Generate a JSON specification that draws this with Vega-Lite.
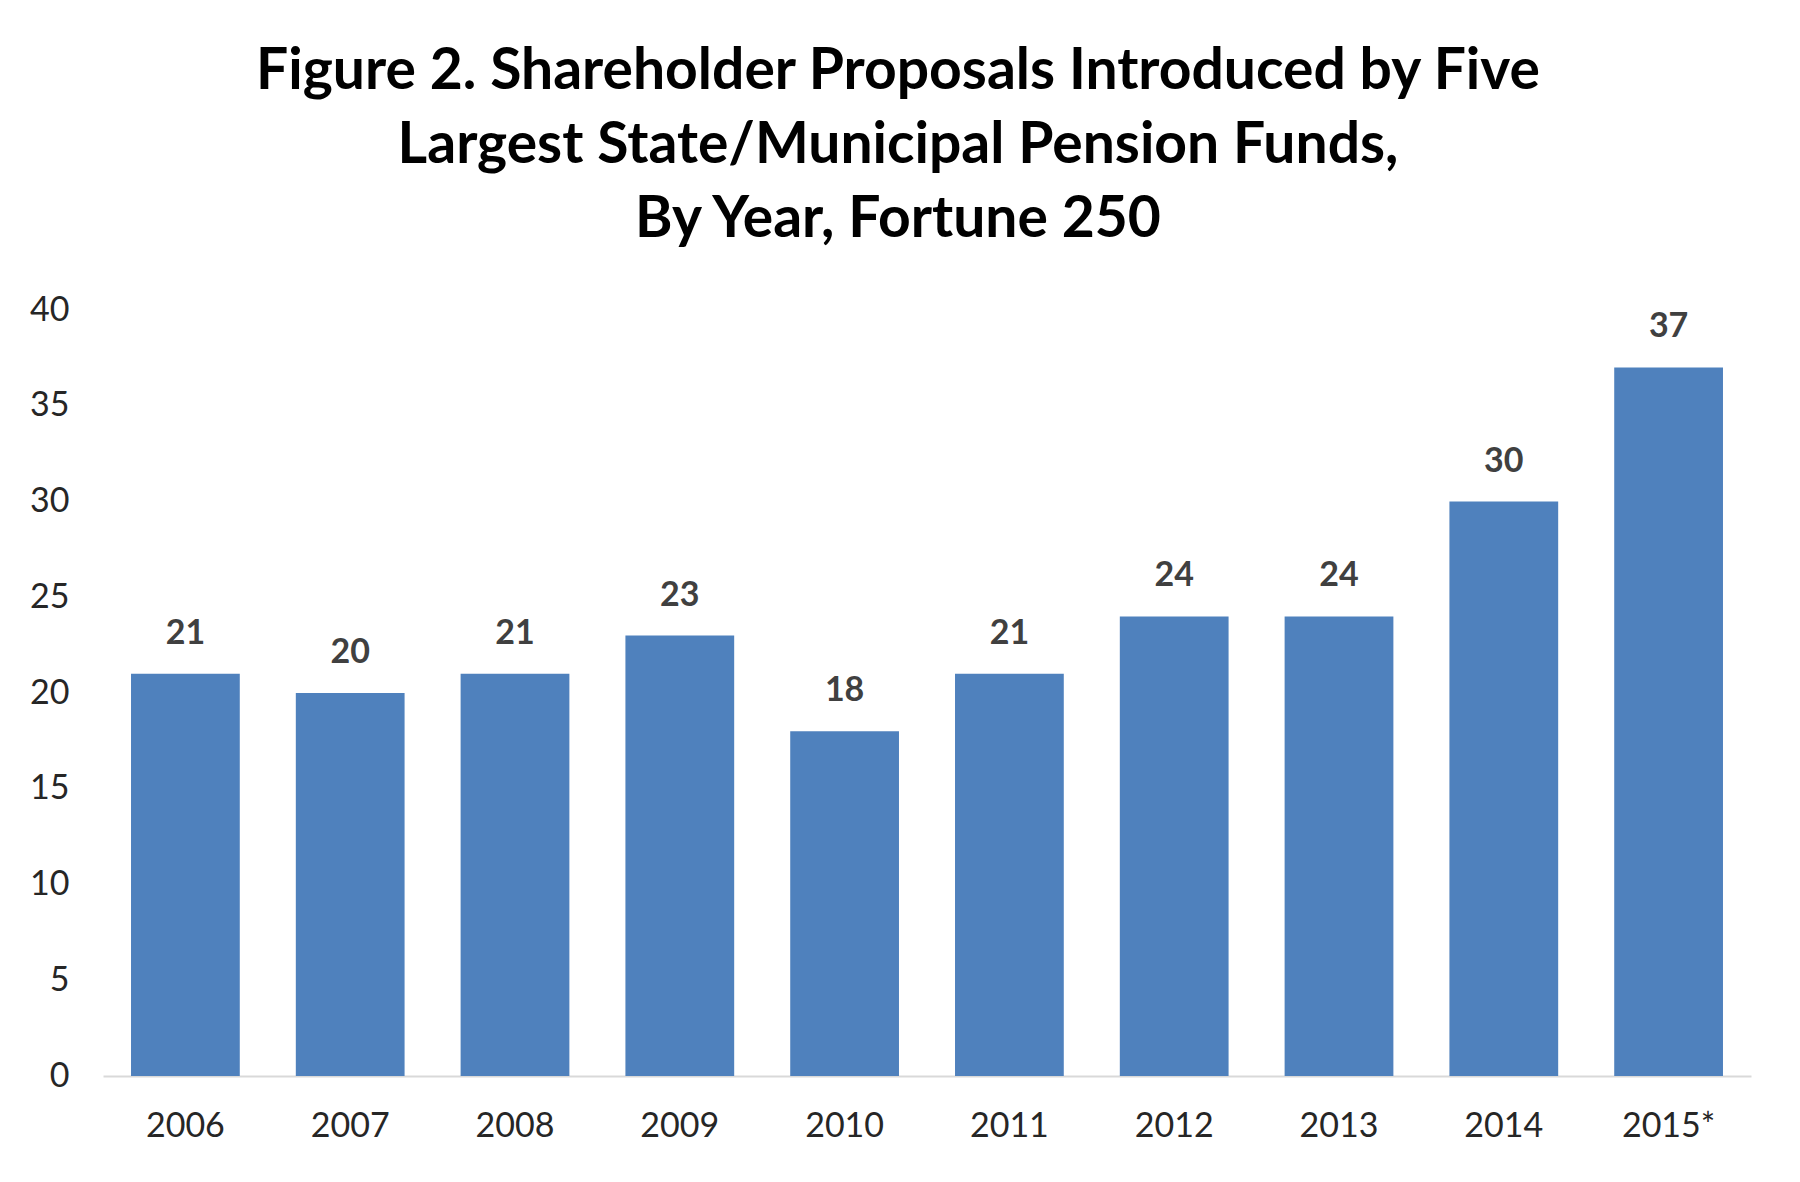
{
  "$schema": "https://vega.github.io/schema/vega-lite/v6.json",
  "autosize": {"type": "none"},
  "width": 1648,
  "height": 766,
  "padding": {"left": 103, "top": 310, "right": 49, "bottom": 106},
  "background": "white",
  "title": {
    "text": ["Figure 2. Shareholder Proposals Introduced by Five", "Largest State/Municipal Pension Funds,", "By Year, Fortune 250"],
    "font": "Lato",
    "fontSize": 57,
    "fontWeight": "bold",
    "color": "#000000",
    "lineHeight": 74,
    "anchor": "middle",
    "dx": -29,
    "offset": 44
  },
  "data": {
    "values": [
      {"year": "2006", "proposals": 21},
      {"year": "2007", "proposals": 20},
      {"year": "2008", "proposals": 21},
      {"year": "2009", "proposals": 23},
      {"year": "2010", "proposals": 18},
      {"year": "2011", "proposals": 21},
      {"year": "2012", "proposals": 24},
      {"year": "2013", "proposals": 24},
      {"year": "2014", "proposals": 30},
      {"year": "2015*", "proposals": 37}
    ]
  },
  "config": {
    "view": {"stroke": null},
    "font": "Lato"
  },
  "encoding": {
    "x": {
      "field": "year",
      "type": "nominal",
      "sort": null,
      "scale": {"paddingInner": 0.34, "paddingOuter": 0.17},
      "axis": {
        "title": null,
        "labelAngle": 0,
        "labelFont": "Lato",
        "labelFontSize": 34,
        "labelColor": "#262626",
        "labelPadding": 33,
        "domainColor": "#d9d9d9",
        "domainWidth": 2,
        "ticks": false
      }
    },
    "y": {
      "field": "proposals",
      "type": "quantitative",
      "scale": {"domain": [0, 40]},
      "axis": {
        "title": null,
        "values": [0, 5, 10, 15, 20, 25, 30, 35, 40],
        "labelFont": "Lato",
        "labelFontSize": 34,
        "labelColor": "#262626",
        "labelPadding": 34,
        "domain": false,
        "ticks": false,
        "grid": false
      }
    }
  },
  "layer": [
    {"mark": {"type": "bar", "color": "#4f81bd"}},
    {
      "mark": {"type": "text", "baseline": "alphabetic", "dy": -30, "font": "Lato", "fontSize": 34, "fontWeight": "bold", "color": "#404040"},
      "encoding": {"text": {"field": "proposals", "type": "quantitative"}}
    }
  ]
}
